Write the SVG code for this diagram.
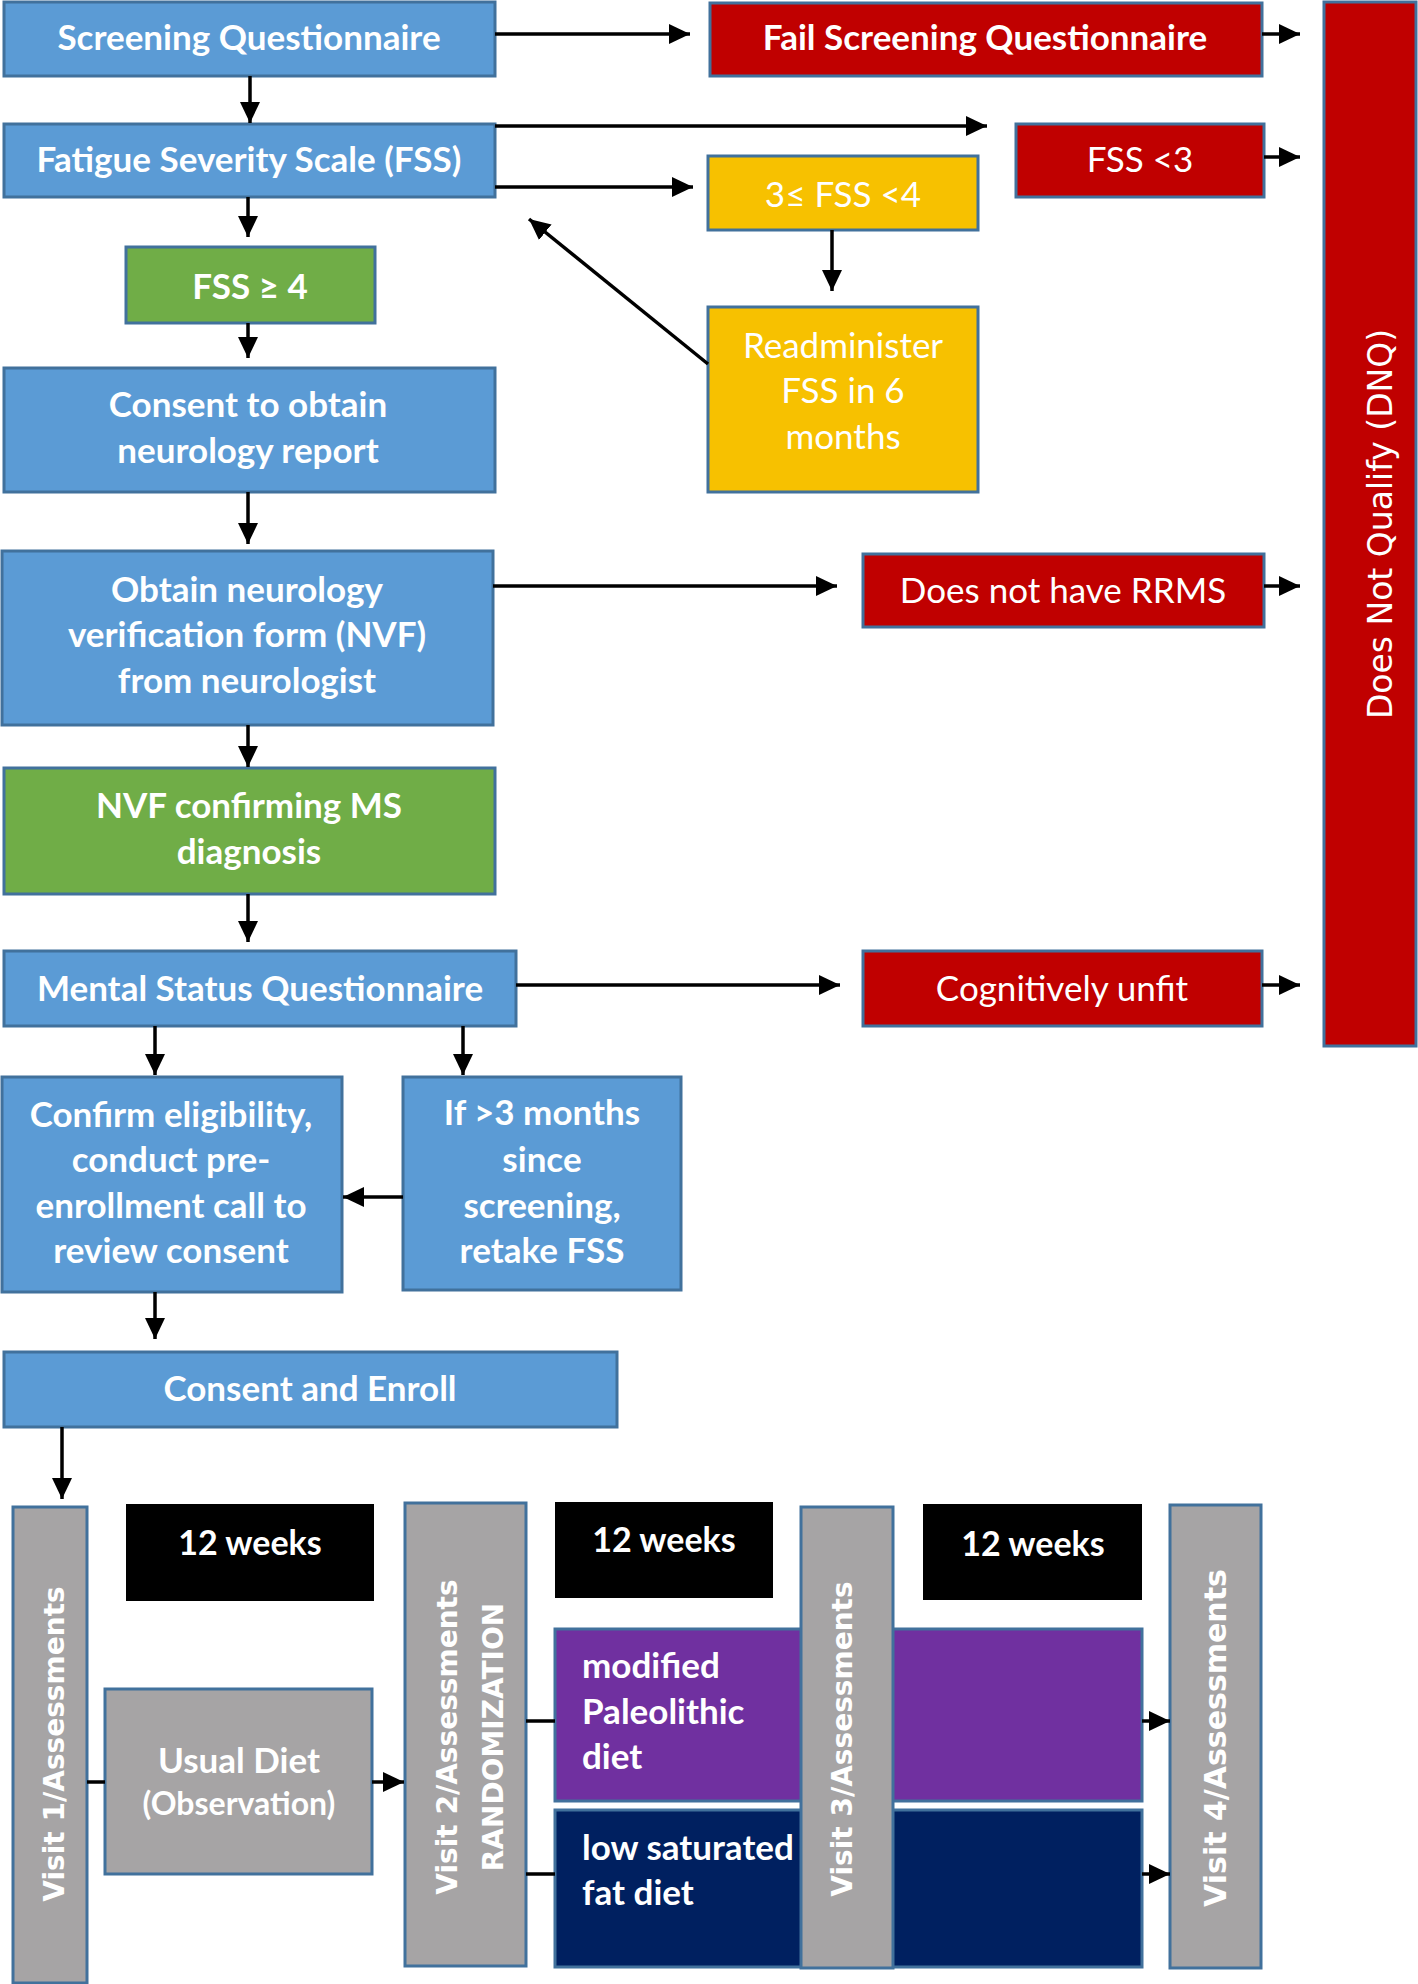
<svg xmlns="http://www.w3.org/2000/svg" width="1418" height="1984" viewBox="0 0 1418 1984">
<style>
.t{font-family:Lato,"Open Sans",sans-serif;fill:#fff;text-anchor:middle;font-size:35px}
.b{font-weight:bold}
.l{text-anchor:start}
.v{font-family:"DejaVu Sans",Verdana,sans-serif;fill:#fff;text-anchor:middle;font-weight:bold;font-size:28px}
.blue{fill:#5B9BD5;stroke:#41719C;stroke-width:3}
.red{fill:#C00000;stroke:#41719C;stroke-width:3}
.green{fill:#70AD47;stroke:#41719C;stroke-width:3}
.yel{fill:#F7C100;stroke:#41719C;stroke-width:3}
.gray{fill:#A6A4A5;stroke:#41719C;stroke-width:3}
.pur{fill:#7030A0;stroke:#41719C;stroke-width:3}
.navy{fill:#002060;stroke:#41719C;stroke-width:3}
.blk{fill:#000}
.c line{stroke:#000;stroke-width:3.5}
</style>
<defs>
<marker id="ah" markerUnits="userSpaceOnUse" markerWidth="21" markerHeight="20" refX="21" refY="10" orient="auto">
<path d="M0,0 L21,10 L0,20 z" fill="#000"/>
</marker>
</defs>
<rect width="1418" height="1984" fill="#fff"/>

<g id="screening"><rect class="blue" x="4" y="2" width="491" height="74"/><text class="t b" x="249" y="50">Screening Questionnaire</text></g>
<g id="fail-screening"><rect class="red" x="710" y="3" width="552" height="73"/><text class="t b" x="985" y="50">Fail Screening Questionnaire</text></g>
<g id="dnq"><rect class="red" x="1324" y="2" width="92" height="1044"/><text x="1392" y="524" transform="rotate(-90 1392 524)" style="font-family:'DejaVu Sans',Verdana,sans-serif;font-size:33px;fill:#fff;text-anchor:middle">Does Not Qualify (DNQ)</text></g>
<g id="fss"><rect class="blue" x="4" y="124" width="491" height="73"/><text class="t b" x="249" y="172">Fatigue Severity Scale (FSS)</text></g>
<g id="fss-lt3"><rect class="red" x="1016" y="124" width="248" height="73"/><text class="t" x="1140" y="172">FSS &lt;3</text></g>
<g id="fss-3to4"><rect class="yel" x="708" y="156" width="270" height="74"/><text class="t" x="843" y="207">3≤ FSS &lt;4</text></g>
<g id="readminister"><rect class="yel" x="708" y="307" width="270" height="185"/><text class="t" x="843" y="358">Readminister</text><text class="t" x="843" y="403">FSS in 6</text><text class="t" x="843" y="449">months</text></g>
<g id="fss-ge4"><rect class="green" x="126" y="247" width="249" height="76"/><text class="t b" x="250" y="299">FSS ≥ 4</text></g>
<g id="consent-report"><rect class="blue" x="4" y="368" width="491" height="124"/><text class="t b" x="248" y="417">Consent to obtain</text><text class="t b" x="248" y="463">neurology report</text></g>
<g id="obtain-nvf"><rect class="blue" x="2" y="551" width="491" height="174"/><text class="t b" x="247" y="602">Obtain neurology</text><text class="t b" x="247" y="647">verification form (NVF)</text><text class="t b" x="247" y="693">from neurologist</text></g>
<g id="no-rrms"><rect class="red" x="863" y="554" width="401" height="73"/><text class="t" x="1063" y="603">Does not have RRMS</text></g>
<g id="nvf-confirm"><rect class="green" x="4" y="768" width="491" height="126"/><text class="t b" x="249" y="818">NVF confirming MS</text><text class="t b" x="249" y="864">diagnosis</text></g>
<g id="mental-status"><rect class="blue" x="4" y="951" width="512" height="75"/><text class="t b" x="260" y="1001">Mental Status Questionnaire</text></g>
<g id="cog-unfit"><rect class="red" x="863" y="951" width="399" height="75"/><text class="t" x="1062" y="1001">Cognitively unfit</text></g>
<g id="confirm"><rect class="blue" x="2" y="1077" width="340" height="215"/><text class="t b" x="171" y="1127">Confirm eligibility,</text><text class="t b" x="171" y="1172">conduct pre-</text><text class="t b" x="171" y="1218">enrollment call to</text><text class="t b" x="171" y="1263">review consent</text></g>
<g id="retake"><rect class="blue" x="403" y="1077" width="278" height="213"/><text class="t b" x="542" y="1125">If &gt;3 months</text><text class="t b" x="542" y="1172">since</text><text class="t b" x="542" y="1218">screening,</text><text class="t b" x="542" y="1263">retake FSS</text></g>
<g id="enroll"><rect class="blue" x="4" y="1352" width="613" height="75"/><text class="t b" x="310" y="1401">Consent and Enroll</text></g>

<g id="visit1"><rect class="gray" x="13" y="1507" width="74" height="476"/><text class="v" x="64" y="1744" transform="rotate(-90 64 1744)">Visit 1/Assessments</text></g>
<g id="weeks1"><rect class="blk" x="126" y="1504" width="248" height="97"/><text class="t b" x="250" y="1555" style="font-size:34px">12 weeks</text></g>
<g id="usual-diet"><rect class="gray" x="105" y="1689" width="267" height="185"/><text class="t b" x="239" y="1773">Usual Diet</text><text class="t b" x="239" y="1815" style="font-size:32px">(Observation)</text></g>
<g id="visit2"><rect class="gray" x="405" y="1503" width="121" height="463"/><text class="v" x="457" y="1737" transform="rotate(-90 457 1737)">Visit 2/Assessments</text><text class="v" x="503" y="1737" transform="rotate(-90 503 1737)">RANDOMIZATION</text></g>
<g id="weeks2"><rect class="blk" x="555" y="1502" width="218" height="96"/><text class="t b" x="664" y="1552" style="font-size:34px">12 weeks</text></g>
<g id="paleo"><rect class="pur" x="555" y="1629" width="587" height="172"/><text class="t b l" x="582" y="1678">modified</text><text class="t b l" x="582" y="1724">Paleolithic</text><text class="t b l" x="582" y="1769">diet</text></g>
<g id="lowfat"><rect class="navy" x="555" y="1810" width="587" height="157"/><text class="t b l" x="582" y="1860">low saturated</text><text class="t b l" x="582" y="1905">fat diet</text></g>
<g id="visit3"><rect class="gray" x="801" y="1507" width="92" height="461"/><text class="v" x="852" y="1739" transform="rotate(-90 852 1739)">Visit 3/Assessments</text></g>
<g id="weeks3"><rect class="blk" x="923" y="1504" width="219" height="96"/><text class="t b" x="1033" y="1556" style="font-size:34px">12 weeks</text></g>
<g id="visit4"><rect class="gray" x="1170" y="1505" width="91" height="463"/><text class="v" x="1226" y="1738" transform="rotate(-90 1226 1738)" style="font-size:30px">Visit 4/Assessments</text></g>

<g id="connectors" class="c">
<line x1="495" y1="34" x2="690" y2="34" marker-end="url(#ah)"/>
<line x1="1262" y1="34" x2="1300" y2="34" marker-end="url(#ah)"/>
<line x1="250" y1="76" x2="250" y2="123" marker-end="url(#ah)"/>
<line x1="495" y1="126" x2="987" y2="126" marker-end="url(#ah)"/>
<line x1="1264" y1="157" x2="1300" y2="157" marker-end="url(#ah)"/>
<line x1="495" y1="187" x2="693" y2="187" marker-end="url(#ah)"/>
<line x1="832" y1="230" x2="832" y2="291" marker-end="url(#ah)"/>
<line x1="708" y1="364" x2="529" y2="219" marker-end="url(#ah)"/>
<line x1="248" y1="197" x2="248" y2="237" marker-end="url(#ah)"/>
<line x1="248" y1="323" x2="248" y2="358" marker-end="url(#ah)"/>
<line x1="248" y1="492" x2="248" y2="544" marker-end="url(#ah)"/>
<line x1="493" y1="586" x2="837" y2="586" marker-end="url(#ah)"/>
<line x1="1264" y1="586" x2="1300" y2="586" marker-end="url(#ah)"/>
<line x1="248" y1="725" x2="248" y2="767" marker-end="url(#ah)"/>
<line x1="248" y1="894" x2="248" y2="942" marker-end="url(#ah)"/>
<line x1="516" y1="985" x2="840" y2="985" marker-end="url(#ah)"/>
<line x1="1262" y1="985" x2="1300" y2="985" marker-end="url(#ah)"/>
<line x1="155" y1="1026" x2="155" y2="1075" marker-end="url(#ah)"/>
<line x1="463" y1="1026" x2="463" y2="1075" marker-end="url(#ah)"/>
<line x1="403" y1="1197" x2="343" y2="1197" marker-end="url(#ah)"/>
<line x1="155" y1="1292" x2="155" y2="1339" marker-end="url(#ah)"/>
<line x1="62" y1="1427" x2="62" y2="1499" marker-end="url(#ah)"/>
<line x1="87" y1="1782" x2="105" y2="1782"/>
<line x1="372" y1="1782" x2="404" y2="1782" marker-end="url(#ah)"/>
<line x1="526" y1="1721" x2="555" y2="1721"/>
<line x1="526" y1="1874" x2="555" y2="1874"/>
<line x1="1142" y1="1721" x2="1170" y2="1721" marker-end="url(#ah)"/>
<line x1="1142" y1="1874" x2="1170" y2="1874" marker-end="url(#ah)"/>
</g>
</svg>
